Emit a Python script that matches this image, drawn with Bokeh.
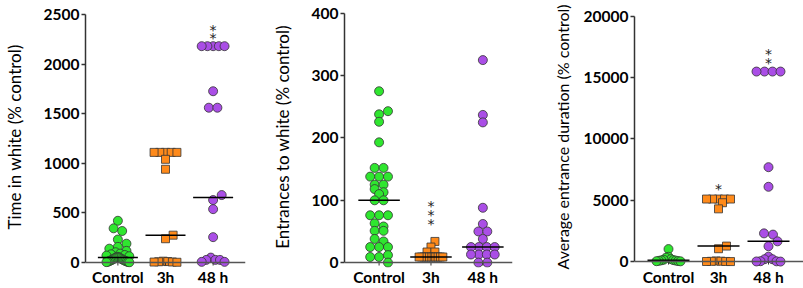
import numpy as np
from bokeh.plotting import figure
from bokeh.layouts import row
from bokeh.models import Range1d, FixedTicker, Span
from bokeh.embed import file_html
from bokeh.resources import INLINE
from bokeh.core.properties import value

categories = ["Control", "3h", "48 h"]

# ---- Panel 1: Time in white (% control)
time_control = [421, 345, 318, 232, 190, 158, 140, 118, 104, 90, 83, 76, 70, 64, 58, 54, 50,
                47, 44, 40, 36, 32, 28, 25, 22, 19, 16, 13, 10, 8, 6, 4, 2]
time_3h = [1110, 1110, 1110, 1110, 1110, 1040, 940, 276, 240, 14, 10, 8, 6, 5, 3]
time_48h = [2180, 2180, 2180, 2180, 2180, 1726, 1560, 1560, 680, 630, 538, 256, 50, 27, 27, 27, 7, 7]
time_ticks = [0, 500, 1000, 1500, 2000, 2500]
time_stars_48h = [2370, 2290]

# ---- Panel 2: Entrances to white (% control)
entr_control = [275, 243, 238, 226, 193, 152, 152, 138, 138, 138, 125, 125, 118, 113, 110, 100, 100,
                76, 76, 76, 63, 58, 51, 51, 38, 34, 25, 25, 25, 12, 9, 9, 0]
entr_3h = [34, 25, 17, 17, 9, 9, 9, 9, 9, 9, 9, 9, 9, 9, 9]
entr_48h = [325, 237, 225, 88, 62, 50, 50, 38, 25, 25, 25, 25, 13, 13, 13, 13, 0, 0]
entr_ticks = [0, 100, 200, 300, 400]
entr_stars_3h = [96, 82, 67]

# ---- Panel 3: Average entrance duration (% control)
dur_control = [1020, 390, 320, 200, 150, 120, 100, 80, 60, 40, 30, 20]
dur_3h = [5100, 5100, 5100, 5100, 5100, 4800, 4300, 1263, 1048, 50, 30, 20, 10, 5, 0]
dur_48h = [15500, 15500, 15500, 15500, 7700, 6100, 2300, 2200, 1650, 1250, 400, 190, 190, 30, 20, 10, 0]
dur_ticks = [0, 5000, 10000, 15000, 20000]
dur_stars_3h = [6150]
dur_stars_48h = [17180, 16450]

GREEN = "#2fe62f"
ORANGE = "#ff8a1a"
PURPLE = "#aa4ee6"
EDGE = "#333333"
FONT = "Lato"


def swarm_offsets(vals, ppu, d, maxspan):
    """Prism-like column scatter: returns x offsets in pixels."""
    ypx = np.asarray(vals, float) * ppu
    binh = 0.65 * d
    bins = np.floor(ypx / binh + 1e-9).astype(int)
    xs = np.zeros(len(vals))
    placed = []
    for b in sorted(set(bins.tolist())):
        idx = [i for i in range(len(vals)) if bins[i] == b]
        n = len(idx)
        s = d if n == 1 else min(d, maxspan / (n - 1))
        offs = (np.arange(n) - (n - 1) / 2) * s
        pos_order = np.argsort(np.abs(offs), kind="stable")
        idx_sorted = sorted(idx, key=lambda i: -ypx[i])
        base = np.zeros(n)
        for k in range(n):
            base[k] = offs[pos_order[k]]
        best = None
        for shift in [0, d / 2, -d / 2, d, -d, 1.5 * d, -1.5 * d]:
            cand = base + shift
            if shift != 0 and np.max(np.abs(cand)) > maxspan / 2 + 0.01:
                continue
            ok = True
            for k, i in enumerate(idx_sorted):
                for (px, py) in placed:
                    if (cand[k] - px) ** 2 + (ypx[i] - py) ** 2 < (0.8 * d) ** 2:
                        ok = False
                        break
                if not ok:
                    break
            if ok:
                best = cand
                break
        if best is None:
            best = base
        for k, i in enumerate(idx_sorted):
            xs[i] = best[k]
            placed.append((best[k], ypx[i]))
    return xs


def panel(groups, ticks, ylabel, stars, fig_w, border_l, frame_w, cat0_px, step_px,
          y0_px, ytop_px, top_px, label_standoff, label_size):
    H = 288
    bottom_px = 270
    ppu = (y0_px - ytop_px) / ticks[-1]
    y_start = -(bottom_px - y0_px) / ppu
    y_end = (y0_px - top_px) / ppu
    x_start = 1 - cat0_px / step_px
    x_end = x_start + frame_w / step_px
    p = figure(width=fig_w, height=H, x_range=Range1d(x_start, x_end),
               y_range=Range1d(y_start, y_end), output_backend="svg",
               toolbar_location=None, min_border_left=border_l,
               min_border_right=fig_w - border_l - frame_w,
               min_border_top=top_px, min_border_bottom=H - bottom_px)
    p.outline_line_color = None
    p.grid.visible = False
    p.background_fill_color = "white"

    # baseline at zero
    p.add_layout(Span(location=0, dimension="width", line_color="#555555", line_width=1.5))

    cats = [1, 2, 3]
    for c, (vals, marker, color) in zip(cats, groups):
        d = 9 if marker == "circle" else 8
        offs = swarm_offsets(vals, ppu, d, 24) / step_px
        p.scatter(x=c + offs, y=vals, marker=marker, size=d, fill_color=color,
                  line_color=EDGE, line_width=0.8)
    for c, (vals, marker, color) in zip(cats, groups):
        med = float(np.median(vals))
        hw = 21 / step_px
        p.segment(x0=[c - hw], x1=[c + hw], y0=[med], y1=[med], line_color="black", line_width=1.5)
    # small category ticks under baseline
    p.segment(x0=cats, x1=cats, y0=[0] * 3, y1=[-3 / ppu] * 3, line_color="#333333", line_width=1)

    for c, svals in stars:
        p.text(x=[c] * len(svals), y=svals, text=["*"] * len(svals),
               text_font=value("DejaVu Sans"), text_font_size="14px", text_align="center",
               text_baseline="middle", text_color="#222222", y_offset=3)

    xa = p.xaxis[0]
    xa.ticker = FixedTicker(ticks=cats)
    xa.major_label_overrides = {1: categories[0], 2: categories[1], 3: categories[2]}
    xa.axis_line_color = None
    xa.major_tick_line_color = None
    xa.minor_tick_line_color = None
    xa.major_tick_out = 0
    xa.major_tick_in = 0
    xa.major_label_standoff = 0
    xa.major_label_text_font = FONT
    xa.major_label_text_font_style = "bold"
    xa.major_label_text_font_size = "15.5px"
    xa.major_label_text_color = "black"

    ya = p.yaxis[0]
    ya.ticker = FixedTicker(ticks=ticks)
    ya.bounds = (0, ticks[-1])
    ya.axis_line_color = "#333333"
    ya.axis_line_width = 1.5
    ya.major_tick_line_color = "#333333"
    ya.major_tick_line_width = 1.5
    ya.major_tick_out = 4
    ya.major_tick_in = 0
    ya.minor_tick_line_color = None
    ya.major_label_standoff = 2
    ya.major_label_text_font = FONT
    ya.major_label_text_font_style = "bold"
    ya.major_label_text_font_size = "15.5px"
    ya.major_label_text_color = "black"
    ya.axis_label = ylabel
    ya.axis_label_text_font = FONT
    ya.axis_label_text_font_style = "normal"
    ya.axis_label_text_font_size = label_size
    ya.axis_label_text_color = "black"
    ya.axis_label_standoff = label_standoff
    return p


p1 = panel([(time_control, "circle", GREEN), (time_3h, "square", ORANGE), (time_48h, "circle", PURPLE)],
           time_ticks, "Time in white (% control)", [(3, time_stars_48h)],
           fig_w=268, border_l=77, frame_w=168, cat0_px=34, step_px=50,
           y0_px=265, ytop_px=14, top_px=6, label_standoff=16, label_size="17px")
p2 = panel([(entr_control, "circle", GREEN), (entr_3h, "square", ORANGE), (entr_48h, "circle", PURPLE)],
           entr_ticks, "Entrances to white (% control)", [(2, entr_stars_3h)],
           fig_w=268, border_l=74, frame_w=170, cat0_px=35, step_px=52.5,
           y0_px=265, ytop_px=10, top_px=3, label_standoff=16, label_size="17px")
p3 = panel([(dur_control, "circle", GREEN), (dur_3h, "square", ORANGE), (dur_48h, "circle", PURPLE)],
           dur_ticks, "Average entrance duration (% control)", [(2, dur_stars_3h), (3, dur_stars_48h)],
           fig_w=267, border_l=98, frame_w=169, cat0_px=34, step_px=50,
           y0_px=264, ytop_px=16, top_px=6, label_standoff=9, label_size="16px")

layout = row(p1, p2, p3)
open("out.html", "w").write(file_html(layout, INLINE))
